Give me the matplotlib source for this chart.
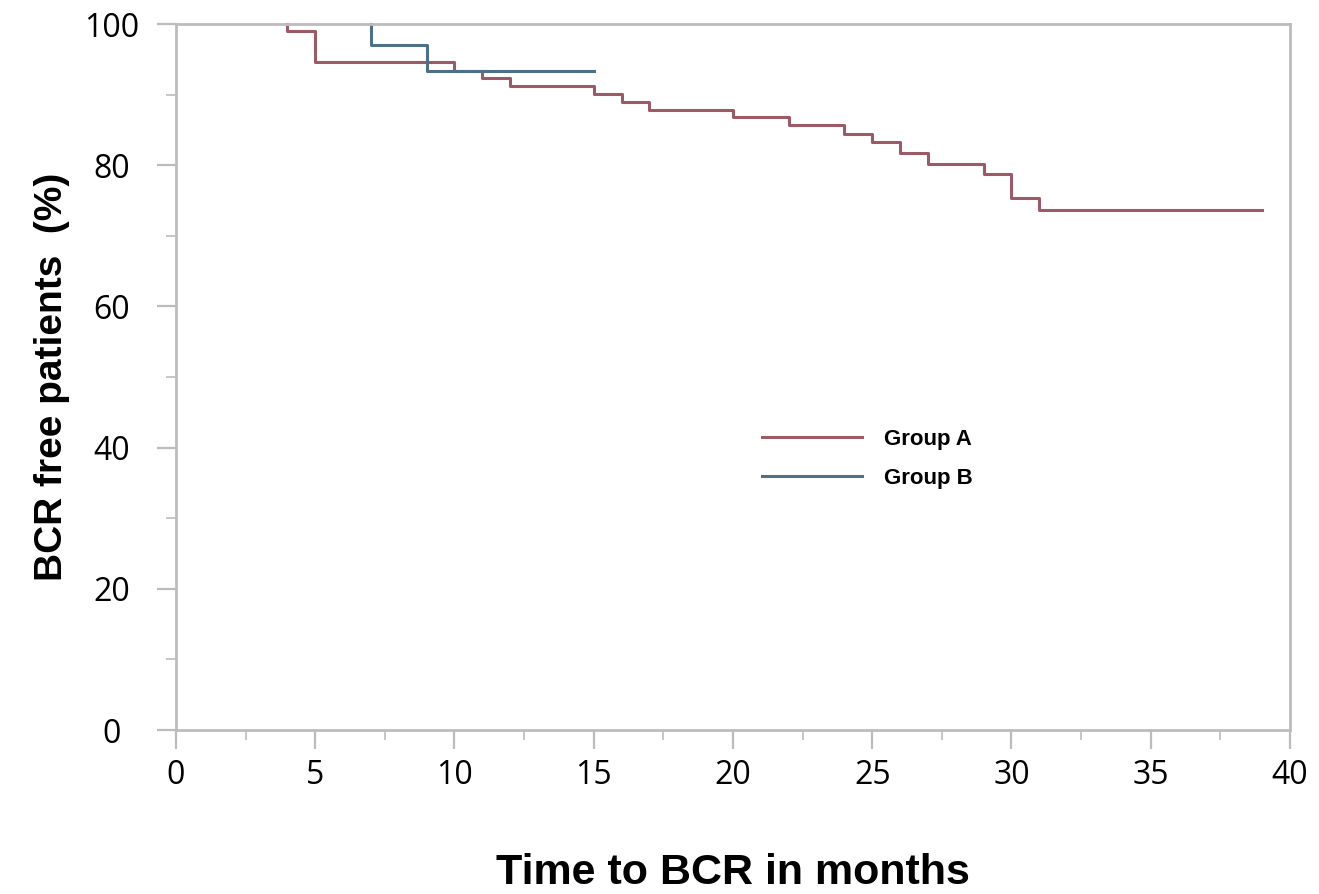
import matplotlib.pyplot as plt
from matplotlib.ticker import MultipleLocator

# Kaplan-Meier steps (curves start at first event,
# the 100% stretch before that sits under the top spine)
group_a_time = [4, 4, 5, 10, 11, 12, 15, 16, 17, 20, 22, 24, 25, 26, 27, 29, 30, 31, 39]
group_a_surv = [100, 99.0, 94.6, 93.4, 92.3, 91.2, 90.1, 89.0, 87.9, 86.8, 85.7,
                84.5, 83.3, 81.7, 80.2, 78.7, 75.4, 73.6, 73.6]
group_b_time = [7, 7, 9, 15]
group_b_surv = [100, 97.0, 93.3, 93.3]

x_ticks = [0, 5, 10, 15, 20, 25, 30, 35, 40]
y_ticks = [0, 20, 40, 60, 80, 100]

red = "#9a5a66"
blue = "#4d6f88"
grey = "#bcbcbc"

fig = plt.figure(figsize=(13.19, 8.94), dpi=100)
ax = fig.add_axes([0.1334, 0.1834, 0.9780 - 0.1334, 0.973 - 0.1834])

ax.step(group_a_time, group_a_surv, where="post", color=red, lw=2.2,
        label="Group A", clip_on=False)
ax.step(group_b_time, group_b_surv, where="post", color=blue, lw=2.2,
        label="Group B", clip_on=False)

ax.set_xlim(0, 40)
ax.set_ylim(0, 100)
ax.set_xticks(x_ticks)
ax.set_yticks(y_ticks)
ax.xaxis.set_minor_locator(MultipleLocator(2.5))
ax.yaxis.set_minor_locator(MultipleLocator(10))

for s in ax.spines.values():
    s.set_color(grey)
    s.set_linewidth(2.0)
    s.set_zorder(3)

ax.tick_params(which="major", direction="out", length=13.5, width=1.6, color=grey)
ax.tick_params(which="minor", direction="out", length=7, width=1.2, color=grey)
ax.tick_params(axis="x", which="major", pad=7)
ax.tick_params(axis="y", which="major", pad=33)
for lab in ax.get_xticklabels() + ax.get_yticklabels():
    lab.set_fontfamily("Open Sans")
    lab.set_fontsize(23)
for lab in ax.get_yticklabels():
    lab.set_horizontalalignment("center")

ax.set_xlabel("Time to BCR in months", fontfamily="Liberation Sans",
              fontweight="bold", fontsize=31, labelpad=44)
ax.set_ylabel("BCR free patients  (%)", fontfamily="Liberation Sans",
              fontweight="bold", fontsize=28, labelpad=10)

ax.legend(loc="upper left", bbox_to_anchor=(0.508, 0.455), frameon=False,
          handlelength=4.5, handletextpad=1.0, labelspacing=0.8,
          prop={"family": "Liberation Sans", "weight": "bold", "size": 16})

fig.savefig("out.png", dpi=100)
